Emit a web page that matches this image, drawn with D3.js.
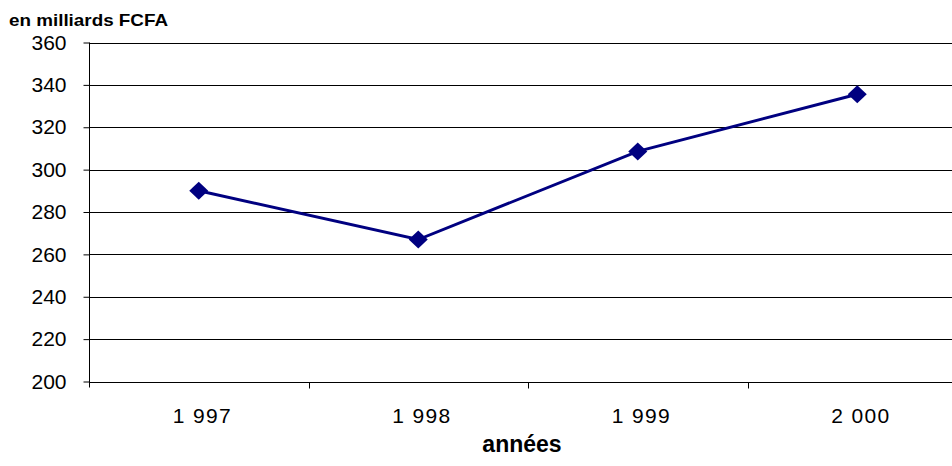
<!DOCTYPE html>
<html>
<head>
<meta charset="utf-8">
<script src="https://cdn.jsdelivr.net/npm/d3@7"></script>
<style>
  html, body { margin: 0; padding: 0; background: #fff; }
  svg { display: block; font-family: "Liberation Sans", Arial, sans-serif; }
</style>
</head>
<body>
<svg id="chart" width="952" height="466"></svg>
<script>
// Annual values, in billions of FCFA
const years = ["1 997", "1 998", "1 999", "2 000"];
const values = [290, 267, 308.6, 335.6];
const yTicks = [200, 220, 240, 260, 280, 300, 320, 340, 360];

const svg = d3.select("#chart");
const plotLeft = 89, plotRight = 967, plotTop = 42.5, plotBottom = 381.5;

const x = d3.scaleBand().domain(years).range([plotLeft, plotRight]);
const y = d3.scaleLinear().domain([200, 360]).range([plotBottom, plotTop]);

// Horizontal gridlines
svg.append("g")
  .selectAll("line")
  .data(yTicks)
  .join("line")
  .attr("x1", plotLeft).attr("x2", 952)
  .attr("y1", d => Math.round(y(d)) + 0.5)
  .attr("y2", d => Math.round(y(d)) + 0.5)
  .attr("stroke", "#000").attr("stroke-width", 1);

// Y axis
const yAxis = svg.append("g")
  .attr("transform", `translate(${plotLeft + 0.5},0)`)
  .call(d3.axisLeft(y).tickValues(yTicks).tickSize(6).tickPadding(17).tickFormat(d3.format("d")));
yAxis.select(".domain").attr("stroke", "#000").attr("d", `M0,${plotTop}V${plotBottom + 6}`);
yAxis.selectAll(".tick line").attr("stroke", "#000");
yAxis.selectAll(".tick text").attr("font-size", 21).attr("fill", "#000")
  .attr("font-family", "Liberation Sans, Arial, sans-serif");

// X axis: ticks on band boundaries, labels centred in bands
const xAxisG = svg.append("g").attr("transform", `translate(0,${Math.round(plotBottom) + 0.5})`);
const boundaries = years.map(d => x(d)).concat([x(years[years.length - 1]) + x.bandwidth()]);
xAxisG.selectAll("line.tick")
  .data(boundaries.slice(1, 4))
  .join("line")
  .attr("class", "tick")
  .attr("x1", d => Math.round(d) + 0.5).attr("x2", d => Math.round(d) + 0.5)
  .attr("y1", 0).attr("y2", 6)
  .attr("stroke", "#000");
xAxisG.selectAll("text")
  .data(years)
  .join("text")
  .attr("x", d => x(d) + x.bandwidth() / 2 + 3)
  .attr("y", 40)
  .attr("text-anchor", "middle")
  .attr("font-size", 21)
  .attr("fill", "#000")
  .attr("textLength", 58)
  .attr("lengthAdjust", "spacing")
  .text(d => d);

// Series line
const pts = years.map((d, i) => [x(d) + x.bandwidth() / 2, y(values[i])]);
svg.append("path")
  .attr("d", d3.line()(pts))
  .attr("fill", "none")
  .attr("stroke", "#000080")
  .attr("stroke-width", 3);

// Diamond markers
svg.append("g")
  .selectAll("path")
  .data(pts)
  .join("path")
  .attr("transform", d => `translate(${d[0]},${d[1]})`)
  .attr("d", "M0,-9L9.5,0L0,9L-9.5,0Z")
  .attr("fill", "#000080");

// Unit label
svg.append("text")
  .attr("x", 9).attr("y", 26)
  .attr("font-size", 17).attr("font-weight", "bold").attr("fill", "#000")
  .attr("textLength", 159)
  .attr("lengthAdjust", "spacingAndGlyphs")
  .text("en milliards FCFA");

// X axis title
svg.append("text")
  .attr("x", 522).attr("y", 452)
  .attr("text-anchor", "middle")
  .attr("font-size", 23).attr("font-weight", "bold").attr("fill", "#000")
  .text("années");
</script>
</body>
</html>
